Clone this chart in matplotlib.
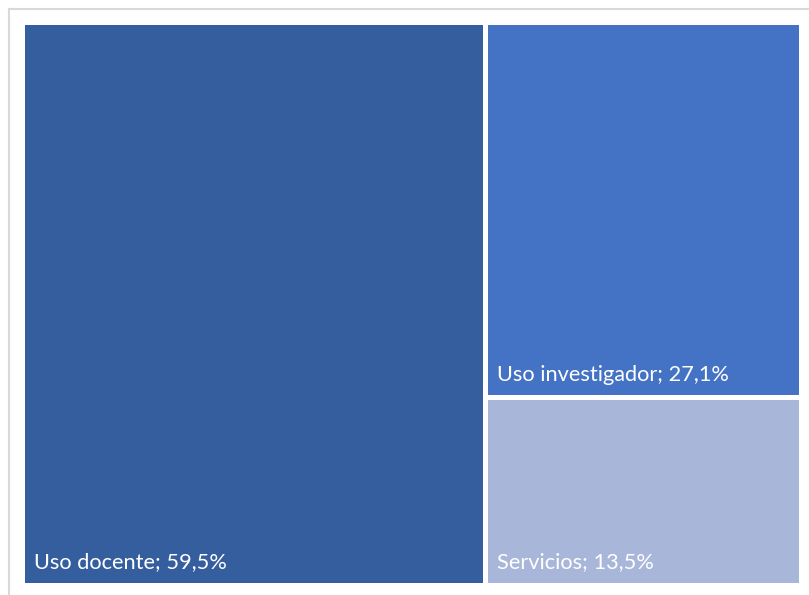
import matplotlib
matplotlib.use("Agg")
import matplotlib.pyplot as plt
from matplotlib.patches import Rectangle
from matplotlib.lines import Line2D

# share of use by category (%)
categories = ["Uso docente", "Uso investigador", "Servicios"]
shares = [59.5, 27.1, 13.5]
labels = ["59,5%", "27,1%", "13,5%"]
colors = ["#355E9F", "#4472C4", "#A8B6DA"]

W, H = 809, 595
fig = plt.figure(figsize=(W / 100, H / 100), dpi=100)
fig.patch.set_facecolor("white")

# light chart frame (runs off the right and bottom edges)
fig.add_artist(Line2D([8.5 / W, 8.5 / W], [0, 1 - 8.5 / H], color="#D9D9D9", lw=1.5))
fig.add_artist(Line2D([8.5 / W, 1], [1 - 8.5 / H, 1 - 8.5 / H], color="#D9D9D9", lw=1.5))

x0, y0, x1, y1 = 25, 25, 799.5, 583
ax = fig.add_axes([x0 / W, 1 - y1 / H, (x1 - x0) / W, (y1 - y0) / H])
ax.set_xlim(0, x1 - x0)
ax.set_ylim(0, y1 - y0)
ax.set_axis_off()

aw, ah = x1 - x0, y1 - y0
total = sum(shares)
gap = 4.5

# first category takes a full-height column, the rest stack on the right
rects = []
w0 = aw * shares[0] / total
rects.append((0, 0, w0 - gap / 2, ah))
rest = sum(shares[1:])
top = ah
for s in shares[1:]:
    h = ah * s / rest
    rects.append((w0 + gap / 2, top - h, aw - w0 - gap / 2, h))
    top -= h

for i, ((rx, ry, rw, rh), name, lab, c) in enumerate(zip(rects, categories, labels, colors)):
    # trim inner edges so neighbouring cells are separated by a white gap
    if i == 1:
        ry += gap / 2
        rh -= gap / 2
    elif i == 2:
        rh -= gap / 2
    ax.add_patch(Rectangle((rx, ry), rw, rh, facecolor=c, edgecolor="none"))
    ax.text(rx + 9.5, ry + 14.5, f"{name}; {lab}", color="white", fontsize=15.7,
            family=["Lato", "DejaVu Sans"], ha="left", va="baseline")

fig.savefig("out.png", dpi=100, facecolor="white")
